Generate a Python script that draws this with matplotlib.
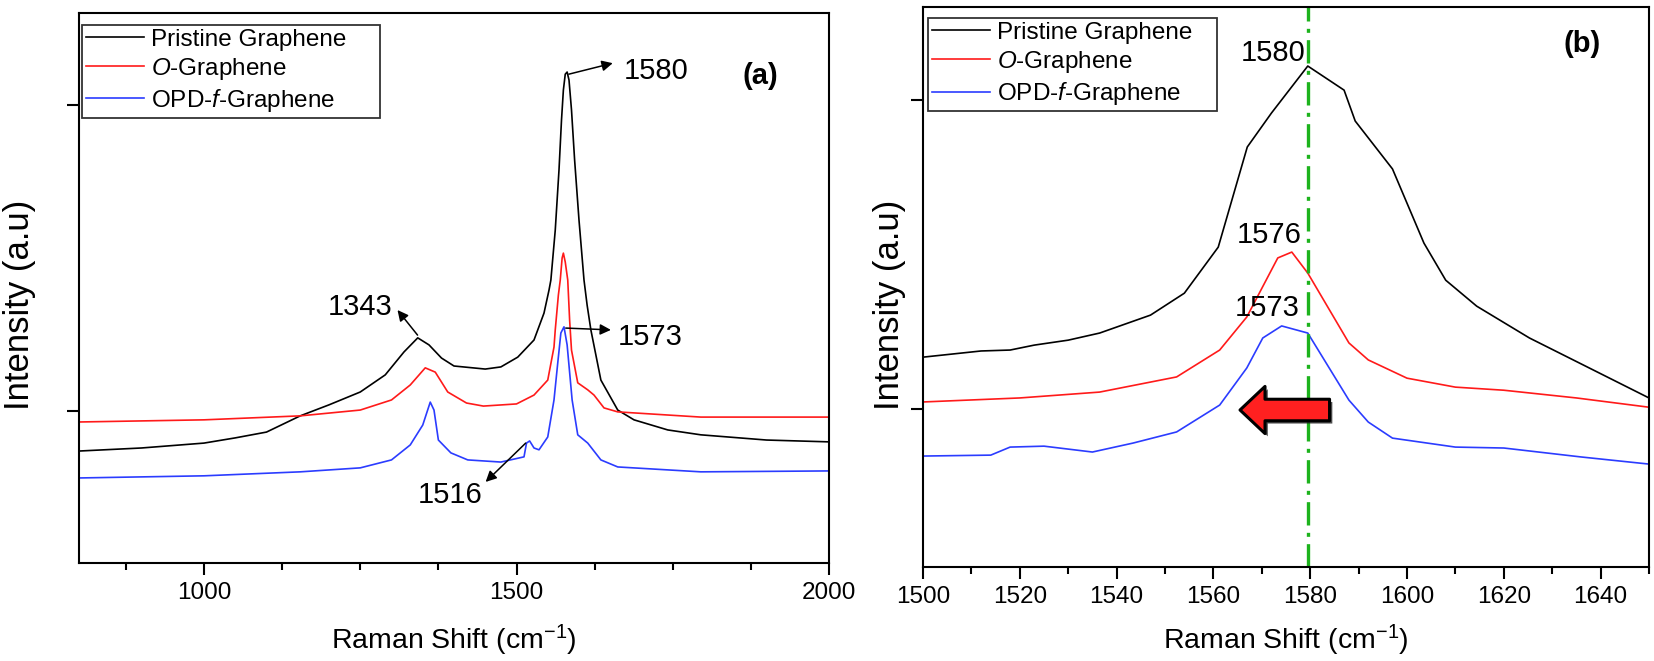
import matplotlib
matplotlib.use("Agg")
import matplotlib.pyplot as plt
from matplotlib import font_manager as fm
from matplotlib.patches import FancyArrowPatch
from matplotlib.ticker import MultipleLocator, FixedLocator
import matplotlib.patheffects as pe

plt.rcParams['font.family'] = ['Liberation Sans', 'DejaVu Sans']
plt.rcParams['mathtext.fontset'] = 'custom'
plt.rcParams['mathtext.rm'] = 'Liberation Sans'
plt.rcParams['mathtext.it'] = 'Liberation Sans:italic'

names = {f.name for f in fm.fontManager.ttflist}
NARROW = 'Liberation Sans Narrow' in names
LABEL_FONT = ['Liberation Sans Narrow', 'Liberation Sans'] if NARROW else ['Liberation Sans']
XLAB_SIZE = 25 if NARROW else 20.5
YLAB_SIZE = 30 if NARROW else 25

# ---- panel (a): full spectrum ----
a_x_black = [800, 900, 1000, 1050, 1100, 1154, 1200, 1250, 1290, 1320, 1342, 1360, 1380, 1400,
             1450, 1475, 1502, 1528, 1544, 1552, 1555, 1562, 1568, 1572, 1575, 1578, 1581, 1584,
             1588, 1593, 1600, 1608, 1613, 1619, 1635, 1662, 1688, 1742, 1795, 1900, 2000]
a_y_black = [-0.131, -0.121, -0.105, -0.088, -0.069, -0.016, 0.020, 0.062, 0.118, 0.193, 0.239,
             0.216, 0.173, 0.147, 0.137, 0.144, 0.176, 0.232, 0.320, 0.395, 0.428, 0.591, 0.788,
             0.951, 1.049, 1.101, 1.108, 1.082, 0.984, 0.820, 0.624, 0.428, 0.346, 0.265, 0.101,
             0.003, -0.029, -0.062, -0.078, -0.095, -0.101]

a_x_red = [800, 1000, 1154, 1250, 1300, 1330, 1354, 1370, 1390, 1420, 1447, 1500, 1528, 1550,
           1560, 1562, 1567, 1570, 1573, 1575, 1578, 1582, 1585, 1588, 1598, 1614, 1624, 1640,
           1662, 1795, 2000]
a_y_red = [-0.036, -0.029, -0.016, 0.003, 0.036, 0.085, 0.141, 0.127, 0.062, 0.026, 0.016, 0.023,
           0.052, 0.101, 0.209, 0.265, 0.379, 0.428, 0.500, 0.516, 0.487, 0.428, 0.297, 0.199,
           0.092, 0.069, 0.052, 0.010, -0.003, -0.020, -0.020]

a_x_blue = [800, 1000, 1154, 1250, 1300, 1330, 1350, 1362, 1368, 1375, 1395, 1422, 1475, 1512,
            1516, 1521, 1528, 1536, 1550, 1560, 1566, 1571, 1576, 1581, 1589, 1598, 1614, 1635,
            1662, 1795, 2000]
a_y_blue = [-0.219, -0.212, -0.199, -0.186, -0.160, -0.111, -0.046, 0.029, 0.003, -0.095, -0.137,
            -0.160, -0.167, -0.150, -0.105, -0.098, -0.121, -0.127, -0.085, 0.036, 0.157, 0.255,
            0.275, 0.216, 0.036, -0.078, -0.105, -0.160, -0.183, -0.199, -0.196]

# ---- panel (b): G band close-up ----
b_x_black = [1500, 1512, 1518, 1523, 1530, 1536.5, 1547, 1554, 1561, 1567, 1572, 1579.5, 1587,
             1589.3, 1597, 1603.5, 1608, 1614.4, 1625.3, 1636, 1650]
b_y_black = [0.168, 0.188, 0.191, 0.207, 0.223, 0.246, 0.304, 0.375, 0.524, 0.848, 0.958, 1.110,
             1.032, 0.932, 0.777, 0.537, 0.417, 0.333, 0.230, 0.146, 0.036]

b_x_red = [1500, 1520, 1536.5, 1552.4, 1561.3, 1566.9, 1573.3, 1576.2, 1579.5, 1588, 1592, 1600,
           1610, 1620, 1635, 1650]
b_y_red = [0.023, 0.036, 0.055, 0.104, 0.191, 0.298, 0.489, 0.508, 0.440, 0.214, 0.159, 0.100,
           0.071, 0.061, 0.036, 0.006]

b_x_blue = [1500, 1514, 1518, 1525, 1535, 1543.4, 1552.4, 1561.3, 1566.9, 1570.2, 1574.1, 1579.5,
            1588, 1592, 1597, 1610, 1620, 1636, 1650]
b_y_blue = [-0.152, -0.149, -0.123, -0.120, -0.139, -0.110, -0.074, 0.013, 0.133, 0.230, 0.269,
            0.246, 0.029, -0.042, -0.094, -0.123, -0.126, -0.155, -0.178]

labels = ['Pristine Graphene', r'$\mathit{O}$-Graphene', r'OPD-$\mathit{f}$-Graphene']
colors = ['black', '#ff1a1a', '#2b3cff']

W, H = 1654, 661
fig = plt.figure(figsize=(W / 100, H / 100), dpi=100)

def box(l, t, r, b):
    return [l / W, 1 - b / H, (r - l) / W, (b - t) / H]

def px(x, y):
    return x / W, 1 - y / H

ax1 = fig.add_axes(box(79, 13, 829, 563))
ax2 = fig.add_axes(box(923, 7, 1649, 567))

for ax in (ax1, ax2):
    for s in ax.spines.values():
        s.set_linewidth(1.5)
    ax.tick_params(which='both', direction='out', width=1.5, top=False, right=False,
                   labelsize=17.5, pad=5, labelleft=False)
    ax.tick_params(which='major', length=8.6)
    ax.tick_params(which='minor', length=5)

# panel a
for x, y, c, lab in zip([a_x_black, a_x_red, a_x_blue], [a_y_black, a_y_red, a_y_blue], colors, labels):
    ax1.plot(x, y, color=c, lw=1.2, label=lab)
ax1.set_xlim(800, 2000)
ax1.set_ylim(-0.497, 1.301)
ax1.xaxis.set_major_locator(FixedLocator([1000, 1500, 2000]))
ax1.xaxis.set_minor_locator(MultipleLocator(125))
ax1.yaxis.set_major_locator(FixedLocator([0, 1]))
ax1.yaxis.set_minor_locator(FixedLocator([]))

ANN = 21
arrow_kw = dict(arrowstyle='-|>', color='black', lw=1.1, mutation_scale=16, shrinkA=0, shrinkB=0)
ax1.text(1250, 0.340, '1343', fontsize=ANN, ha='center', va='center')
ax1.annotate('', xy=(1309.6, 0.330), xytext=(1341.7, 0.248), arrowprops=arrow_kw)
ax1.text(1714, 0.242, '1573', fontsize=ANN, ha='center', va='center')
ax1.annotate('', xy=(1651, 0.265), xytext=(1578.8, 0.271), arrowprops=arrow_kw)
ax1.text(1394.6, -0.275, '1516', fontsize=ANN, ha='center', va='center')
ax1.annotate('', xy=(1450.6, -0.232), xytext=(1514.7, -0.105), arrowprops=arrow_kw)
ax1.text(1723, 1.111, '1580', fontsize=ANN, ha='center', va='center')
ax1.annotate('', xy=(1654, 1.137), xytext=(1583.7, 1.101), arrowprops=arrow_kw)
ax1.text(0.908, 0.885, '(a)', transform=ax1.transAxes, fontsize=21, fontweight='bold',
         ha='center', va='center')

leg_kw = dict(loc='upper left', mode='expand', borderaxespad=0, fontsize=17.5, handlelength=2.4,
              handletextpad=0.3, borderpad=0.15, labelspacing=0.21, fancybox=False,
              framealpha=1, edgecolor='#333333')
lg1 = ax1.legend(bbox_to_anchor=(0.004, 0.978, 0.397, 0.0), **leg_kw)
lg1.get_frame().set_linewidth(1.3)

# panel b
for x, y, c, lab in zip([b_x_black, b_x_red, b_x_blue], [b_y_black, b_y_red, b_y_blue], colors, labels):
    ax2.plot(x, y, color=c, lw=1.2, label=lab)
ax2.set_xlim(1500, 1650)
ax2.set_ylim(-0.511, 1.301)
ax2.xaxis.set_major_locator(MultipleLocator(20))
ax2.xaxis.set_minor_locator(MultipleLocator(10))
ax2.yaxis.set_major_locator(FixedLocator([0, 1]))
ax2.yaxis.set_minor_locator(FixedLocator([]))

ax2.axvline(1579.5, color='#1db31d', lw=2.4, linestyle=(0, (7, 2.2, 1.2, 2.2)))
ax2.text(1572.3, 1.152, '1580', fontsize=ANN, ha='center', va='center')
ax2.text(1571.6, 0.563, '1576', fontsize=ANN, ha='center', va='center')
ax2.text(1571.2, 0.327, '1573', fontsize=ANN, ha='center', va='center')
ax2.text(0.908, 0.934, '(b)', transform=ax2.transAxes, fontsize=21, fontweight='bold',
         ha='center', va='center')

red_arrow = FancyArrowPatch((1584.0, -0.003), (1565.5, -0.003),
                            arrowstyle='simple,head_width=34,head_length=18,tail_width=15.5',
                            mutation_scale=1, shrinkA=0, shrinkB=0,
                            facecolor='#ff2020', edgecolor='black', lw=2.2, zorder=5)
red_arrow.set_path_effects([pe.SimplePatchShadow(offset=(2, -2), shadow_rgbFace='#222222', alpha=0.8),
                            pe.Normal()])
ax2.add_patch(red_arrow)

lg2 = ax2.legend(bbox_to_anchor=(0.0069, 0.980, 0.398, 0.0), **leg_kw)
lg2.get_frame().set_linewidth(1.3)

# axis labels
xl = r'Raman Shift (cm$^{-1}$)'
fig.text(*px(454, 640), xl, family=LABEL_FONT, fontsize=XLAB_SIZE, ha='center', va='center')
fig.text(*px(1286, 640), xl, family=LABEL_FONT, fontsize=XLAB_SIZE, ha='center', va='center')
fig.text(*px(20, 305), 'Intensity (a.u)', family=LABEL_FONT, fontsize=YLAB_SIZE,
         ha='center', va='center', rotation=90)
fig.text(*px(889, 305), 'Intensity (a.u)', family=LABEL_FONT, fontsize=YLAB_SIZE,
         ha='center', va='center', rotation=90)

fig.savefig('out.png', dpi=100)
